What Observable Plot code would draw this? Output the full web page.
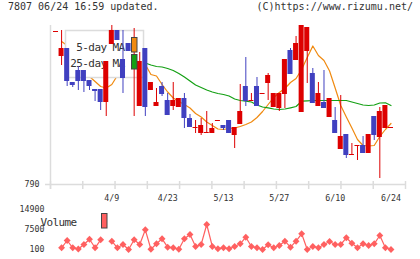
<!DOCTYPE html>
<html><head><meta charset="utf-8">
<script src="https://cdn.jsdelivr.net/npm/d3@7"></script>
<script src="https://cdn.jsdelivr.net/npm/@observablehq/plot@0.6"></script>
<style>
body{margin:0;background:#fff;}
#wrap{position:relative;width:420px;height:259px;overflow:hidden;font-family:"DejaVu Sans Mono",monospace;}
#hl{position:absolute;left:8px;top:0;font-size:10px;line-height:13px;color:#333;}
#hr{position:absolute;right:7px;top:0;font-size:10px;line-height:13px;color:#333;}
svg{display:block;}
</style></head><body>
<div id="wrap"><div id="main"></div><div id="vol"></div><div id="hl">7807 06/24 16:59 updated.</div><div id="hr">(C)https://www.rizumu.net/</div></div>
<script>
const dateLabels = ["4/9","4/23","5/13","5/27","6/10","6/24"];
const labelIndex = [10,20,30,40,50,60];
const open  = [942,918,926,892,904,904,894,885,885,872,930,944,915,931,906,868,926,884,868,888,874,868,867,876,856,846,841,841,841,853,849,854,839,850,888,873,888,880,891,867,866,880,924,914,862,923,901,868,872,857,854,825,840,819,828,829,821,858,837,846,846];
const close = [943,926,893,889,893,893,888,883,872,913,944,934,896,923,918,913,867,892,872,880,859,874,876,856,847,847,849,842,846,854,846,841,847,863,873,874,868,881,899,881,881,915,900,931,949,947,871,881,866,876,841,838,819,820,829,821,840,839,863,869,847];
const high  = [943,944,926,892,908,904,894,885,885,913,949,944,944,931,946,922,926,892,886,892,881,892,876,881,860,854,856,863,851,854,849,854,847,890,917,881,897,881,901,881,881,915,926,938,949,947,906,892,904,876,867,879,840,831,829,838,840,858,867,869,847];
const low   = [942,909,888,887,884,882,884,873,864,858,930,934,881,923,858,868,858,884,868,878,859,864,867,846,847,841,839,841,841,853,844,841,826,850,868,873,868,880,874,867,863,866,900,914,862,891,871,868,866,857,841,825,816,819,814,821,821,834,796,846,846];
const ma5 = [null,933,929,919,909,902,898,893,888,886.5,890,899,904,909,912,911,910,900,898.5,890,882.5,876.5,873,870,866.5,861,857.5,852.5,849,845.5,845,846,846.5,848,850,852.5,857,863,870,877,882,886,892,896,905,917,928.5,919,914,903.5,886.5,869,857.5,846.5,835,829,828.5,829,838,845,851];
const ma25 = [null,null,null,null,null,null,null,null,null,null,null,null,null,null,null,912,911.5,909.5,908,907.5,906,904,901,897.5,893.5,889.5,887,884.5,882.5,881,880,878.5,875.5,874,873.3,872.5,869.5,867.5,866.7,865.5,865,865.5,866.7,868,873.3,873.7,874,874,874,874,874,874,874,872.5,871,869.5,869,869.5,871.5,871.7,869];
const volume = [null,730,3430,730,300,1950,3910,730,3690,null,3170,730,1950,100,3690,1950,7390,200,2210,4060,950,730,200,4060,5650,1210,1950,9350,1210,360,730,360,1210,2210,4650,1210,730,100,1840,730,1580,3170,950,3170,5910,100,1210,730,1950,3060,1950,1950,4430,2430,730,2210,1580,2210,5280,730,100];
const volTicks = [100,7500,14900];
const priceTicks = [790];

const RED = "#dd0000", BLUE = "#4040c0", ORANGE = "#f08a10", GREEN = "#14a014", VOLC = "#ff6060", GRID = "#dcdcdc";
const FONT = "'DejaVu Sans Mono', monospace";
const idx = d3.range(open.length);
const xDomain = [-0.985, 62.6];
const gridIdx = d3.range(12).map(k => xDomain[0] + k * (xDomain[1] - xDomain[0]) / 11);
const col = i => close[i] >= open[i] ? RED : BLUE;

function legendBox() {
  const g = d3.create("svg:g");
  g.append("rect").attr("x", 65.5).attr("y", 30.5).attr("width", 78).attr("height", 47)
    .attr("fill", "#fff").attr("stroke", GRID).attr("stroke-width", 1.5);
  const t = g.append("g").attr("font-family", FONT).attr("font-size", 11).attr("fill", "#333")
    .attr("text-anchor", "end").attr("letter-spacing", "-0.6px");
  t.append("text").attr("x", 124.5).attr("y", 50.5).text("5-day MA");
  t.append("text").attr("x", 124.5).attr("y", 67).text("25-day MA");
  return g.node();
}
function legendSwatches() {
  const g = d3.create("svg:g");
  g.append("rect").attr("x", 131.5).attr("y", 37.5).attr("width", 5.5).attr("height", 14.5)
    .attr("fill", ORANGE).attr("stroke", "#444");
  g.append("rect").attr("x", 131.5).attr("y", 54.5).attr("width", 5.5).attr("height", 14.5)
    .attr("fill", GREEN).attr("stroke", "#444");
  return g.node();
}
function volLegend() {
  const g = d3.create("svg:g");
  g.append("text").attr("x", 58.5).attr("y", 21).attr("font-family", FONT).attr("font-size", 11)
    .attr("letter-spacing", "-0.6px").attr("fill", "#333").text("Volume");
  g.append("rect").attr("x", 101.5).attr("y", 8.5).attr("width", 5.5).attr("height", 14.5)
    .attr("fill", VOLC).attr("stroke", "#444");
  return g.node();
}

const main = Plot.plot({
  width: 420, height: 205,
  marginTop: 25, marginBottom: 21, marginLeft: 50, marginRight: 15,
  style: {fontFamily: FONT, fontSize: "8.3px", color: "#333", background: "#fff"},
  x: {domain: xDomain, ticks: labelIndex, tickFormat: d => dateLabels[labelIndex.indexOf(d)], tickSize: 0, tickPadding: 11, label: null},
  y: {domain: [790, 949], ticks: priceTicks, tickSize: 0, tickPadding: 11, label: null},
  marks: [
    Plot.ruleX(gridIdx, {y1: 790, y2: 790, insetTop: -3, insetBottom: -5, stroke: GRID, strokeWidth: 1.5}),
    Plot.ruleX([xDomain[0]], {stroke: GRID, strokeWidth: 1.5, insetBottom: -5}),
    Plot.ruleY([790], {stroke: GRID, strokeWidth: 1.5, insetLeft: -5}),
    Plot.line(idx, {x: i => i, y: i => ma5[i], stroke: ORANGE, strokeWidth: 1.2}),
    Plot.line(idx, {x: i => i, y: i => ma25[i], stroke: GREEN, strokeWidth: 1.2}),
    legendBox,
    Plot.ruleX(idx, {x: i => i, y1: i => low[i], y2: i => high[i], stroke: col, strokeWidth: 1}),
    Plot.rect(idx, {x1: i => i - 0.45, x2: i => i + 0.45, y1: i => open[i], y2: i => close[i], fill: col}),
    legendSwatches
  ]
});
document.getElementById("main").append(main);

const vol = Plot.plot({
  width: 420, height: 54,
  marginTop: 4, marginBottom: 10, marginLeft: 50, marginRight: 15,
  style: {fontFamily: FONT, fontSize: "8.3px", color: "#333", background: "#fff"},
  x: {domain: xDomain, axis: null},
  y: {domain: [100, 14900], ticks: volTicks, tickFormat: d => String(d), tickSize: 0, tickPadding: 6, label: null},
  marks: [
    Plot.line(idx, {x: i => i, y: i => volume[i], stroke: VOLC, strokeWidth: 1.2}),
    Plot.dot(idx, {x: i => i, y: i => volume[i], symbol: "diamond2", r: 3.1, fill: VOLC, stroke: null}),
    volLegend
  ]
});
document.getElementById("vol").append(vol);
</script>
</body></html>
